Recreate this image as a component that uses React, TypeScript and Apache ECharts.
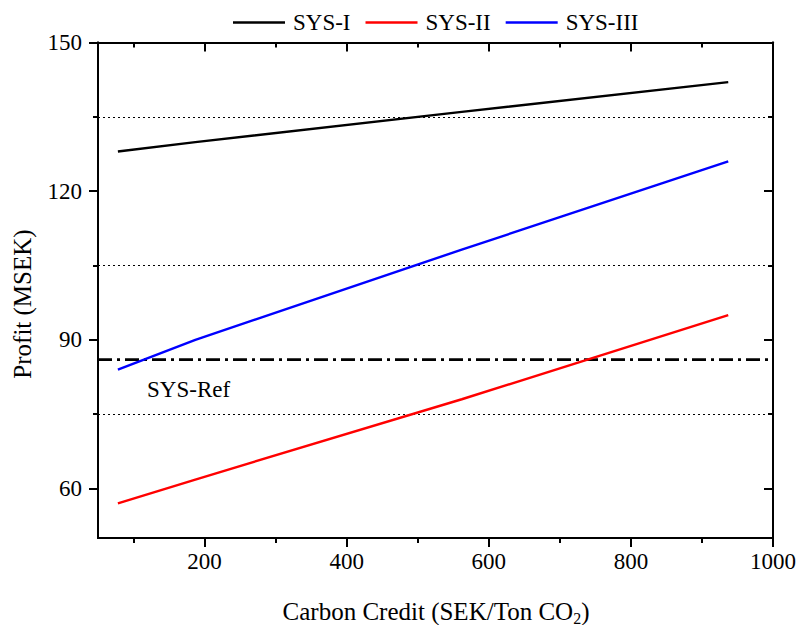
import React, { useEffect, useRef } from "react";
import * as echarts from "echarts";

const carbonCredit = [78, 187, 562, 937];
const sys1 = [128, 129.9, 136, 142];
const sys2 = [57, 61.8, 78, 95];
const sys3 = [84, 90, 108.2, 126];
const sysRef = 86;
const gridDotted = [75, 105, 135];
const xMajor = [200, 400, 600, 800, 1000];
const xMinor = [100, 300, 500, 700, 900];
const yMajor = [60, 90, 120, 150];
const yMinor = [75, 105, 135];
const xRange = [50, 1000];
const yRange = [50, 150];

const FONT = "'Liberation Serif', 'Times New Roman', serif";

export default function App() {
  const ref = useRef<HTMLDivElement>(null);
  useEffect(() => {
    if (!ref.current) return;
    const chart = echarts.init(ref.current, undefined, { renderer: "svg" });
    const axisLine = { show: true, lineStyle: { color: "#000", width: 2 } };
    const mkX = (pos: string, vals: number[], len: number, inside: boolean, labels: boolean) => ({
      type: "value",
      position: pos,
      min: xRange[0],
      max: xRange[1],
      axisLine,
      axisTick: { show: true, customValues: vals, length: len, inside, lineStyle: { color: "#000", width: 2 } },
      axisLabel: labels
        ? { show: true, customValues: vals, fontSize: 23, color: "#000", fontFamily: FONT, margin: 12, formatter: (v: number) => String(v) }
        : { show: false },
      splitLine: { show: false },
    });
    const mkY = (pos: string, vals: number[], len: number, inside: boolean, labels: boolean) => ({
      type: "value",
      position: pos,
      min: yRange[0],
      max: yRange[1],
      axisLine,
      axisTick: { show: true, customValues: vals, length: len, inside, lineStyle: { color: "#000", width: 2 } },
      axisLabel: labels
        ? { show: true, customValues: vals, fontSize: 23, color: "#000", fontFamily: FONT, margin: 16, formatter: (v: number) => String(v) }
        : { show: false },
      splitLine: { show: false },
    });
    const toPts = (ys: number[]) => carbonCredit.map((x, i) => [x, ys[i]]);
    const lineSeries = (name: string, ys: number[], color: string) => ({
      name,
      type: "line",
      data: toPts(ys),
      symbol: "none",
      lineStyle: { color, width: 2.4 },
      itemStyle: { color },
      xAxisIndex: 0,
      yAxisIndex: 0,
      z: 5,
    });
    chart.setOption({
      animation: false,
      grid: { left: 98, right: 26, top: 42.5, bottom: 87 },
      legend: {
        data: ["SYS-I", "SYS-II", "SYS-III"],
        left: 228,
        top: 6,
        icon: "rect",
        itemWidth: 52,
        itemHeight: 2.6,
        itemGap: 15,
        textStyle: { fontSize: 23, color: "#000", fontFamily: FONT, padding: [0, 0, 0, 3] },
      },
      xAxis: [
        mkX("bottom", xMajor, 9, false, true),
        mkX("bottom", xMinor, 5, false, false),
        mkX("top", xMajor, 9, true, false),
        mkX("top", xMinor, 5, true, false),
      ],
      yAxis: [
        mkY("left", yMajor, 9, false, true),
        mkY("left", yMinor, 5, false, false),
        mkY("right", yMajor, 9, true, false),
        mkY("right", yMinor, 5, true, false),
      ],
      series: [
        {
          name: "SYS-Ref",
          type: "line",
          data: [
            [xRange[0], sysRef],
            [xRange[1], sysRef],
          ],
          symbol: "none",
          lineStyle: { color: "#000", width: 2.8, type: [14, 5, 3, 5] },
          z: 3,
          markLine: {
            silent: true,
            symbol: ["none", "none"],
            label: { show: false },
            lineStyle: { color: "#000", width: 1, type: [2, 3] },
            data: gridDotted.map((v) => ({ yAxis: v })),
          },
        },
        lineSeries("SYS-I", sys1, "#000000"),
        lineSeries("SYS-II", sys2, "#ff0000"),
        lineSeries("SYS-III", sys3, "#0000ff"),
      ],
    });
    const p = chart.convertToPixel({ xAxisIndex: 0, yAxisIndex: 0 }, [119, 80]) as number[];
    chart.setOption({
      graphic: [
        {
          type: "text",
          x: p[0],
          y: p[1],
          style: { text: "SYS-Ref", fontSize: 23, fill: "#000", fontFamily: FONT, textAlign: "left", textVerticalAlign: "middle" },
        },
        {
          type: "text",
          x: 22,
          y: 304,
          rotation: Math.PI / 2,
          style: { text: "Profit (MSEK)", fontSize: 25, fill: "#000", fontFamily: FONT, textAlign: "center", textVerticalAlign: "middle" },
        },
        {
          type: "text",
          x: 436,
          y: 611,
          style: {
            text: "{a|Carbon Credit (SEK/Ton CO}{s|2}{a|)}",
            textAlign: "center",
            textVerticalAlign: "middle",
            rich: {
              a: { fontSize: 25, fontFamily: FONT, fill: "#000", lineHeight: 30 },
              s: { fontSize: 16, fontFamily: FONT, fill: "#000", lineHeight: 6, verticalAlign: "bottom" },
            },
          },
        },
      ],
    });
    return () => chart.dispose();
  }, []);
  return <div ref={ref} style={{ width: 799, height: 625, position: "absolute", left: 0, top: 0 }} />;
}
